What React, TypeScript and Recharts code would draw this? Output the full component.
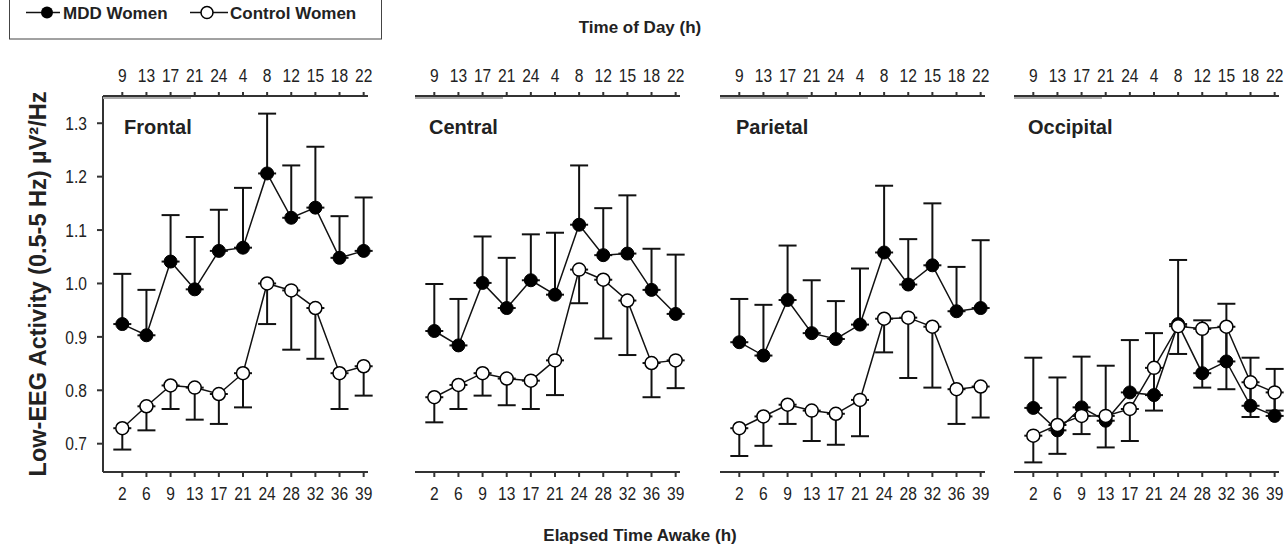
import React from 'react';
import { LineChart, Line, XAxis, YAxis, ErrorBar } from 'recharts';

// x positions (index) and the two tick label rows
const elapsedHours = ['2', '6', '9', '13', '17', '21', '24', '28', '32', '36', '39'];
const clockHours = ['9', '13', '17', '21', '24', '4', '8', '12', '15', '18', '22'];
const yTicks = [0.7, 0.8, 0.9, 1.0, 1.1, 1.2, 1.3];

// Frontal
const frontalMdd = [0.924, 0.903, 1.041, 0.989, 1.061, 1.067, 1.206, 1.123, 1.142, 1.048, 1.061];
const frontalMddUpper = [1.018, 0.988, 1.128, 1.087, 1.138, 1.179, 1.318, 1.221, 1.256, 1.126, 1.161];
const frontalCtrl = [0.729, 0.77, 0.809, 0.805, 0.793, 0.832, 1.0, 0.987, 0.954, 0.832, 0.845];
const frontalCtrlLower = [0.689, 0.725, 0.765, 0.745, 0.737, 0.768, 0.924, 0.876, 0.859, 0.765, 0.79];

// Central
const centralMdd = [0.911, 0.884, 1.001, 0.954, 1.006, 0.979, 1.11, 1.053, 1.056, 0.988, 0.943];
const centralMddUpper = [0.999, 0.971, 1.088, 1.048, 1.092, 1.095, 1.221, 1.141, 1.165, 1.065, 1.054];
const centralCtrl = [0.787, 0.81, 0.832, 0.822, 0.818, 0.856, 1.026, 1.007, 0.968, 0.851, 0.856];
const centralCtrlLower = [0.74, 0.765, 0.79, 0.772, 0.765, 0.791, 0.963, 0.897, 0.866, 0.787, 0.804];

// Parietal
const parietalMdd = [0.89, 0.865, 0.969, 0.907, 0.896, 0.923, 1.058, 0.998, 1.034, 0.948, 0.954];
const parietalMddUpper = [0.971, 0.96, 1.071, 1.006, 0.967, 1.028, 1.183, 1.083, 1.15, 1.031, 1.081];
const parietalCtrl = [0.729, 0.751, 0.773, 0.762, 0.756, 0.782, 0.934, 0.936, 0.919, 0.802, 0.807];
const parietalCtrlLower = [0.677, 0.696, 0.737, 0.705, 0.698, 0.714, 0.871, 0.823, 0.805, 0.737, 0.749];

// Occipital
const occipitalMdd = [0.767, 0.725, 0.768, 0.743, 0.796, 0.791, 0.924, 0.832, 0.854, 0.771, 0.752];
const occipitalMddUpper = [0.861, 0.824, 0.863, 0.846, 0.894, 0.907, 1.044, 0.931, 0.962, 0.861, 0.84];
const occipitalCtrl = [0.715, 0.735, 0.752, 0.752, 0.765, 0.842, 0.92, 0.915, 0.919, 0.815, 0.796];
const occipitalCtrlLower = [0.665, 0.681, 0.718, 0.693, 0.705, 0.762, 0.868, 0.805, 0.802, 0.75, 0.762];

const font = "'Liberation Sans', Arial, sans-serif";
const axisColor = '#333';
const textColor = '#222';

const PLOT_W = 265;
const Y_AXIS_W = 40;

// condensed tick label (the original uses a narrow face)
function NarrowTick(props: any) {
  const { x, y, payload, textAnchor, labels, dy, fmt } = props;
  const v = payload.value;
  const label = labels ? labels[v] : fmt ? fmt(v) : String(v);
  return (
    <g transform={`translate(${x},${y}) scale(0.82,1)`}>
      <text x={0} y={0} dy={dy} textAnchor={textAnchor} fontSize={19} fontFamily={font} fill={textColor}>
        {label}
      </text>
    </g>
  );
}

type PanelProps = {
  mdd: number[];
  mddUpper: number[];
  ctrl: number[];
  ctrlLower: number[];
  plotLeft: number;
  showY?: boolean;
};

function Panel({ mdd, mddUpper, ctrl, ctrlLower, plotLeft, showY }: PanelProps) {
  const rows = elapsedHours.map((_, i) => ({
    i,
    mdd: mdd[i],
    mddErr: [0, +(mddUpper[i] - mdd[i]).toFixed(3)],
    ctrl: ctrl[i],
    ctrlErr: [+(ctrl[i] - ctrlLower[i]).toFixed(3), 0],
  }));
  const yw = showY ? Y_AXIS_W : 0;

  return (
    <div style={{ position: 'absolute', left: plotLeft - yw, top: 0 }}>
      <LineChart width={yw + PLOT_W + 12} height={557} data={rows} margin={{ top: 66, right: 12, bottom: 55, left: 0 }}>
        <XAxis
          xAxisId="bottom"
          dataKey="i"
          type="number"
          domain={[-0.8, 10.18]}
          ticks={elapsedHours.map((_, i) => i)}
          interval={0}
          height={30}
          tickSize={5}
          tickMargin={10}
          tick={(p: any) => <NarrowTick {...p} labels={elapsedHours} dy="0.71em" />}
          stroke={axisColor}
          strokeWidth={2}
        />
        <XAxis
          xAxisId="top"
          orientation="top"
          dataKey="i"
          type="number"
          domain={[-0.8, 10.18]}
          ticks={clockHours.map((_, i) => i)}
          interval={0}
          height={30}
          tickSize={4}
          tickMargin={10}
          tick={(p: any) => <NarrowTick {...p} labels={clockHours} dy="0" />}
          stroke={axisColor}
          strokeWidth={2}
        />
        <YAxis
          domain={[0.647, 1.351]}
          ticks={yTicks}
          interval={0}
          width={Y_AXIS_W}
          hide={!showY}
          tickSize={6}
          tickMargin={10}
          tick={(p: any) => <NarrowTick {...p} fmt={(v: number) => v.toFixed(1)} dy="0.355em" />}
          stroke={axisColor}
          strokeWidth={2}
        />
        <Line
          xAxisId="bottom"
          dataKey="mdd"
          type="linear"
          stroke="#111"
          strokeWidth={1.5}
          dot={{ r: 6.5, fill: '#000', stroke: '#000', strokeWidth: 1 }}
          isAnimationActive={false}
        >
          <ErrorBar dataKey="mddErr" direction="y" width={9} stroke="#111" strokeWidth={2} />
        </Line>
        <Line
          xAxisId="bottom"
          dataKey="ctrl"
          type="linear"
          stroke="#111"
          strokeWidth={1.5}
          dot={{ r: 6.5, fill: '#fff', stroke: '#000', strokeWidth: 1.5 }}
          isAnimationActive={false}
        >
          <ErrorBar dataKey="ctrlErr" direction="y" width={9} stroke="#111" strokeWidth={2} />
        </Line>
      </LineChart>
    </div>
  );
}

const panels = [
  { name: 'Frontal', mdd: frontalMdd, mddUpper: frontalMddUpper, ctrl: frontalCtrl, ctrlLower: frontalCtrlLower, plotLeft: 103, labelX: 124 },
  { name: 'Central', mdd: centralMdd, mddUpper: centralMddUpper, ctrl: centralCtrl, ctrlLower: centralCtrlLower, plotLeft: 415, labelX: 429 },
  { name: 'Parietal', mdd: parietalMdd, mddUpper: parietalMddUpper, ctrl: parietalCtrl, ctrlLower: parietalCtrlLower, plotLeft: 720, labelX: 736 },
  { name: 'Occipital', mdd: occipitalMdd, mddUpper: occipitalMddUpper, ctrl: occipitalCtrl, ctrlLower: occipitalCtrlLower, plotLeft: 1014, labelX: 1028 },
];

export default function App() {
  return (
    <div style={{ position: 'absolute', left: 0, top: 0, width: 1285, height: 557, background: '#fff', overflow: 'hidden' }}>
      {panels.map((p, k) => (
        <Panel key={p.name} mdd={p.mdd} mddUpper={p.mddUpper} ctrl={p.ctrl} ctrlLower={p.ctrlLower} plotLeft={p.plotLeft} showY={k === 0} />
      ))}
      <svg width={1285} height={557} style={{ position: 'absolute', left: 0, top: 0, pointerEvents: 'none' }}>
        {/* legend */}
        <rect x={9.5} y={-0.5} width={372} height={39.5} fill="none" stroke="#444" strokeWidth={1} />
        <line x1={26} x2={60} y1={12.5} y2={12.5} stroke="#111" strokeWidth={1.5} />
        <circle cx={47} cy={12.5} r={6} fill="#000" />
        <text x={63} y={18.5} fontFamily={font} fontWeight="bold" fontSize={17} fill={textColor}>MDD Women</text>
        <line x1={190} x2={228} y1={12.5} y2={12.5} stroke="#111" strokeWidth={1.5} />
        <circle cx={207} cy={12.5} r={6} fill="#fff" stroke="#000" strokeWidth={1.5} />
        <text x={230} y={18.5} fontFamily={font} fontWeight="bold" fontSize={17} fill={textColor}>Control Women</text>

        {/* faint grey band under the first part of each top axis */}
        {panels.map((p) => (
          <line key={p.name + '-band'} x1={p.plotLeft} x2={p.plotLeft + 88} y1={98} y2={98} stroke="#aaa" strokeWidth={2} />
        ))}

        <text x={640} y={33} textAnchor="middle" fontFamily={font} fontWeight="bold" fontSize={17} fill={textColor}>Time of Day (h)</text>
        <text x={640} y={541} textAnchor="middle" fontFamily={font} fontWeight="bold" fontSize={17} fill={textColor}>Elapsed Time Awake (h)</text>
        <text
          x={38}
          y={284}
          transform="rotate(-90 38 284)"
          textAnchor="middle"
          dominantBaseline="central"
          fontFamily={font}
          fontWeight="bold"
          fontSize={23.5}
          fill={textColor}
        >
          Low-EEG Activity (0.5-5 Hz) µV²/Hz
        </text>
        {panels.map((p) => (
          <text key={p.name} x={p.labelX} y={134} fontFamily={font} fontWeight="bold" fontSize={20} fill={textColor}>
            {p.name}
          </text>
        ))}
      </svg>
    </div>
  );
}
